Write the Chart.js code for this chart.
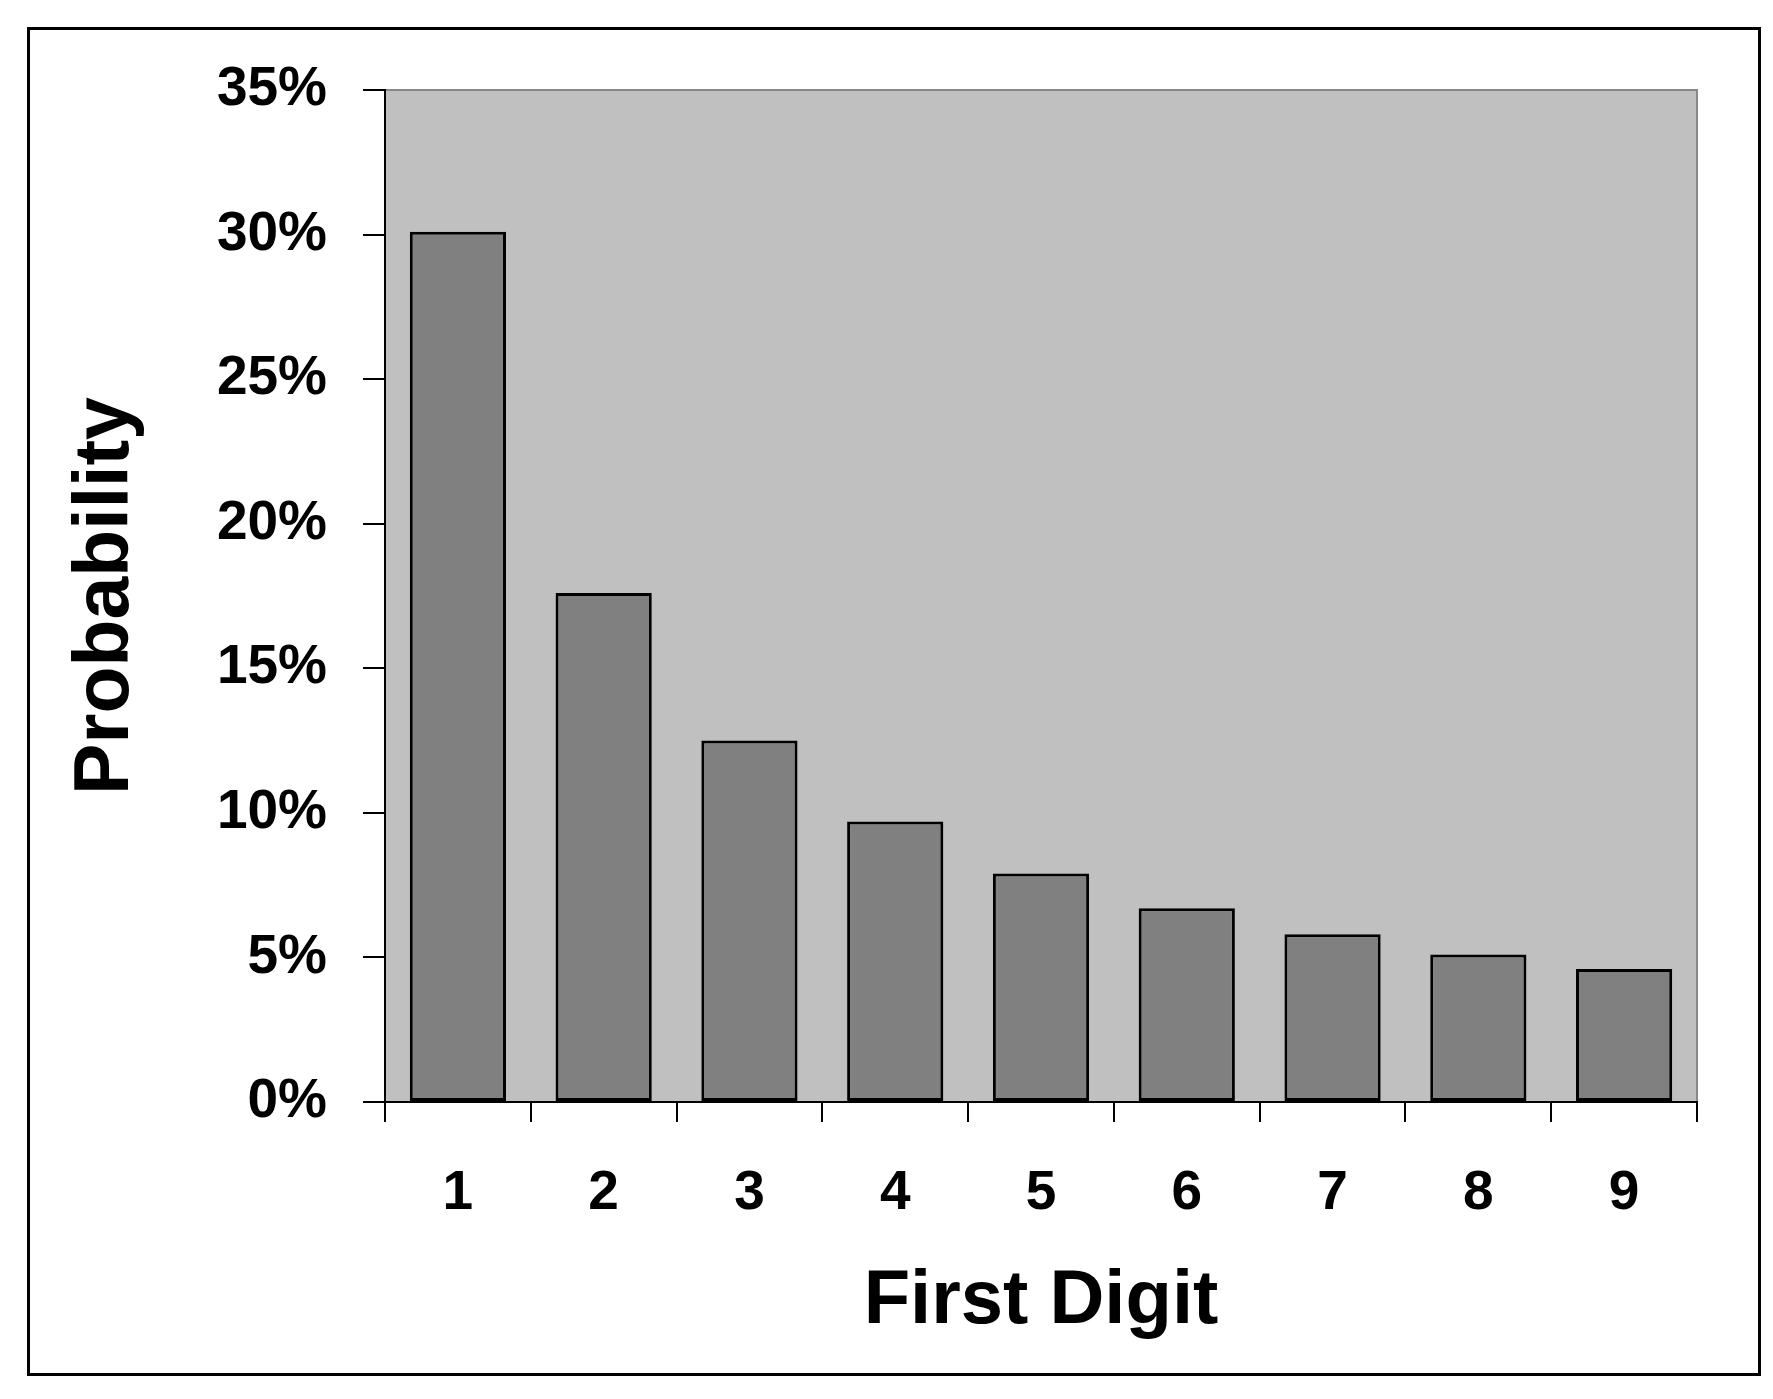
<!DOCTYPE html>
<html>
<head>
<meta charset="utf-8">
<title>First Digit Probability</title>
<script src="https://cdn.jsdelivr.net/npm/chart.js@4.4.1/dist/chart.umd.min.js"></script>
<style>
  html, body { margin: 0; padding: 0; background: #fff; overflow: hidden; }
  canvas { display: block; }
</style>
</head>
<body>
<canvas id="bar-chart" width="1773" height="1399"></canvas>
<script>
// values (Benford first digit distribution)
const digits = ["1", "2", "3", "4", "5", "6", "7", "8", "9"];
const probability = [30.1, 17.6, 12.5, 9.7, 7.9, 6.7, 5.8, 5.1, 4.6];
const yMax = 35;
const yStep = 5;

const FONT = "'Liberation Sans', Arial, Helvetica, sans-serif";

// grey plot background + outer frame, like the old Excel chart
const frame = {
  id: "frame",
  beforeDraw(chart) {
    const { ctx, chartArea } = chart;
    ctx.save();
    ctx.fillStyle = "#c0c0c0";
    ctx.fillRect(chartArea.left, chartArea.top, chartArea.right - chartArea.left, chartArea.bottom - chartArea.top);
    ctx.strokeStyle = "#888";
    ctx.lineWidth = 2;
    ctx.beginPath();
    ctx.moveTo(chartArea.left, chartArea.top);
    ctx.lineTo(chartArea.right, chartArea.top);
    ctx.lineTo(chartArea.right, chartArea.bottom);
    ctx.stroke();
    // outer box
    ctx.strokeStyle = "#000";
    ctx.lineWidth = 3;
    ctx.strokeRect(28.5, 28.5, 1731, 1346);
    ctx.restore();
  }
};

const ctx = document.getElementById("bar-chart").getContext("2d");

new Chart(ctx, {
  type: "bar",
  data: {
    labels: digits,
    datasets: [
      {
        label: "Probability",
        data: probability,
        backgroundColor: "#808080",
        borderColor: "#000",
        borderWidth: 3,
        borderSkipped: false,
        barPercentage: 0.66,
        categoryPercentage: 1,
      },
    ],
  },
  options: {
    responsive: false,
    animation: false,
    layout: {
      padding: { top: 90, right: 76, bottom: 0, left: 0 },
    },
    plugins: {
      legend: { display: false },
      tooltip: { enabled: false },
    },
    scales: {
      x: {
        offset: true,
        afterFit(scale) { scale.height = 297; },
        grid: {
          offset: true,
          drawOnChartArea: false,
          drawTicks: true,
          tickLength: 20,
          color: "#000",
          lineWidth: 2,
        },
        border: { display: true, color: "#000", width: 2 },
        ticks: {
          color: "#000",
          padding: 39,
          font: { family: FONT, size: 55, weight: "bold" },
        },
        title: {
          display: true,
          text: "First Digit",
          color: "#000",
          padding: { top: 0, bottom: 51 },
          font: { family: FONT, size: 76, weight: "bold" },
        },
      },
      y: {
        min: 0,
        max: yMax,
        afterFit(scale) { scale.width = 385; },
        grid: {
          drawOnChartArea: false,
          drawTicks: true,
          tickLength: 22,
          color: "#000",
          lineWidth: 2,
        },
        border: { display: true, color: "#000", width: 2 },
        ticks: {
          stepSize: yStep,
          color: "#000",
          padding: 36,
          font: { family: FONT, size: 55, weight: "bold" },
          callback: (v) => v + "%",
        },
        title: {
          display: true,
          text: "Probability",
          color: "#000",
          padding: { top: 61, bottom: 0 },
          font: { family: FONT, size: 77, weight: "bold" },
        },
      },
    },
  },
  plugins: [frame],
});
</script>
</body>
</html>
